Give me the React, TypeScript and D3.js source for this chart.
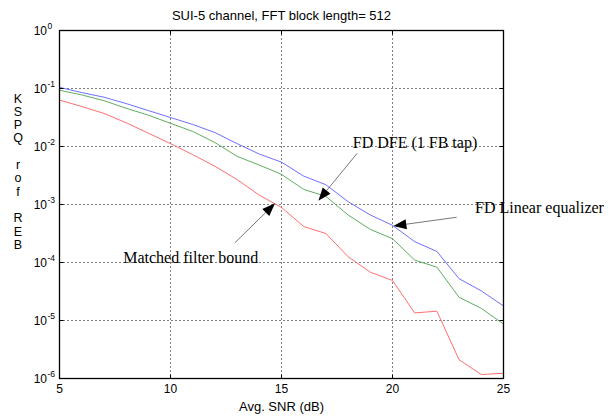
import React from "react";
import * as d3 from "d3";

const snr = [5, 6, 7, 8, 9, 10, 11, 12, 13, 14, 15, 16, 17, 18, 19, 20, 21, 22, 23, 24, 25];
const linearEq = [0.1047, 0.0851, 0.0708, 0.055, 0.0417, 0.0316, 0.024, 0.0174, 0.0112, 0.00741, 0.00537, 0.00309, 0.00219, 0.00112, 6.6e-4, 4.37e-4, 2.29e-4, 1.55e-4, 5.25e-5, 3.24e-5, 1.78e-5];
const dfe = [0.0933, 0.0776, 0.0617, 0.0457, 0.0347, 0.0251, 0.0182, 0.0117, 0.00676, 0.00479, 0.00331, 0.00182, 0.00138, 6.6e-4, 3.72e-4, 2.57e-4, 1.1e-4, 8.3e-5, 2.51e-5, 1.62e-5, 8.7e-6];
const mfb = [0.0631, 0.049, 0.0372, 0.0257, 0.017, 0.0112, 0.00724, 0.00457, 0.00269, 0.00145, 8.9e-4, 4.17e-4, 3.16e-4, 1.26e-4, 6.8e-5, 4.9e-5, 1.35e-5, 1.45e-5, 2.1e-6, 1.17e-6, 1.23e-6];

const xTicks = [5, 10, 15, 20, 25];
const yExponents = [0, -1, -2, -3, -4, -5, -6];
const title = "SUI-5 channel, FFT block length= 512";
const xLabel = "Avg. SNR (dB)";
const yLabelLines = ["K", "S", "P", "Q", "", "r", "o", "f", "", "R", "E", "B"];

// annotations in data units: text anchor, arrow start, arrow tip
const annotations = [
  { label: "FD DFE (1 FB tap)", tx: 18.21, ty: 10 ** -2.03, fx: 18.41, fy: 10 ** -2.117, px: 16.66, py: 10 ** -2.934 },
  { label: "FD Linear equalizer", tx: 23.72, ty: 10 ** -3.15, fx: 22.89, fy: 10 ** -3.22, px: 20.04, py: 10 ** -3.37 },
  { label: "Matched filter bound", tx: 7.87, ty: 10 ** -4.01, fx: 12.9, fy: 10 ** -3.66, px: 14.71, py: 10 ** -2.98 },
];

const series = [
  { values: linearEq, color: "#6f6fff" },
  { values: dfe, color: "#5fae5f" },
  { values: mfb, color: "#ff6f6f" },
];

export default function App() {
  const W = 609, H = 419;
  const left = 59.5, right = 503.5, top = 30.5, bottom = 378.5;
  const x = d3.scaleLinear().domain([5, 25]).range([left, right]);
  const y = d3.scaleLog().domain([1, 1e-6]).range([top, bottom]);
  const line = d3
    .line<number>()
    .x((_, i) => x(snr[i]))
    .y((d) => y(d));
  const sans = "'Liberation Sans', Arial, Helvetica, sans-serif";
  const serif = "'Liberation Serif', 'Times New Roman', serif";
  const tick = 4;

  return (
    <svg width={W} height={H} style={{ position: "absolute", left: 0, top: 0, background: "#fff" }}>
      <rect x={0} y={0} width={W} height={H} fill="#fff" />
      {xTicks.slice(1, -1).map((t) => (
        <line key={"gx" + t} x1={x(t)} x2={x(t)} y1={top} y2={bottom} stroke="#000" strokeWidth={1} strokeDasharray="1,3" />
      ))}
      {yExponents.slice(1, -1).map((e) => (
        <line key={"gy" + e} x1={left} x2={right} y1={y(10 ** e)} y2={y(10 ** e)} stroke="#000" strokeWidth={1} strokeDasharray="1,3" />
      ))}
      {series.map((s, i) => (
        <path key={i} d={line(s.values) || ""} fill="none" stroke={s.color} strokeWidth={1} />
      ))}
      <rect x={left} y={top} width={right - left} height={bottom - top} fill="none" stroke="#000" strokeWidth={1.3} />
      {xTicks.map((t) => (
        <g key={"tx" + t}>
          <line x1={x(t)} x2={x(t)} y1={bottom} y2={bottom - tick} stroke="#000" />
          <line x1={x(t)} x2={x(t)} y1={top} y2={top + tick} stroke="#000" />
          <text x={x(t)} y={bottom + 14} textAnchor="middle" fontFamily={sans} fontSize={12}>
            {t}
          </text>
        </g>
      ))}
      {yExponents.map((e) => (
        <g key={"ty" + e}>
          <line x1={left} x2={left + tick} y1={y(10 ** e)} y2={y(10 ** e)} stroke="#000" />
          <line x1={right} x2={right - tick} y1={y(10 ** e)} y2={y(10 ** e)} stroke="#000" />
          <text x={47} y={y(10 ** e) + 4} textAnchor="end" fontFamily={sans} fontSize={12}>
            10
          </text>
          <text x={47.5} y={y(10 ** e) - 2} textAnchor="start" fontFamily={sans} fontSize={8.5}>
            {e}
          </text>
        </g>
      ))}
      <text x={(left + right) / 2} y={20} textAnchor="middle" fontFamily={sans} fontSize={13}>
        {title}
      </text>
      <text x={(left + right) / 2} y={410.5} textAnchor="middle" fontFamily={sans} fontSize={13}>
        {xLabel}
      </text>
      {yLabelLines.map((c, i) => (
        <text key={"yl" + i} x={18} y={102.5 + i * 13.3} textAnchor="middle" fontFamily={sans} fontSize={12.5}>
          {c}
        </text>
      ))}
      {annotations.map((a, i) => {
        const x1 = x(a.fx), y1 = y(a.fy), x2 = x(a.px), y2 = y(a.py);
        const ang = Math.atan2(y2 - y1, x2 - x1);
        const L = 13, Wd = 5;
        const bx = x2 - L * Math.cos(ang), by = y2 - L * Math.sin(ang);
        const pts = [
          [x2, y2],
          [bx + Wd * Math.sin(ang), by - Wd * Math.cos(ang)],
          [bx - Wd * Math.sin(ang), by + Wd * Math.cos(ang)],
        ];
        return (
          <g key={"an" + i}>
            <line x1={x1} y1={y1} x2={bx} y2={by} stroke="#555" strokeWidth={0.8} />
            <polygon points={pts.map((p) => p.join(",")).join(" ")} fill="#000" />
            <text x={x(a.tx)} y={y(a.ty)} fontFamily={serif} fontSize={16} fill="#000">
              {a.label}
            </text>
          </g>
        );
      })}
    </svg>
  );
}
